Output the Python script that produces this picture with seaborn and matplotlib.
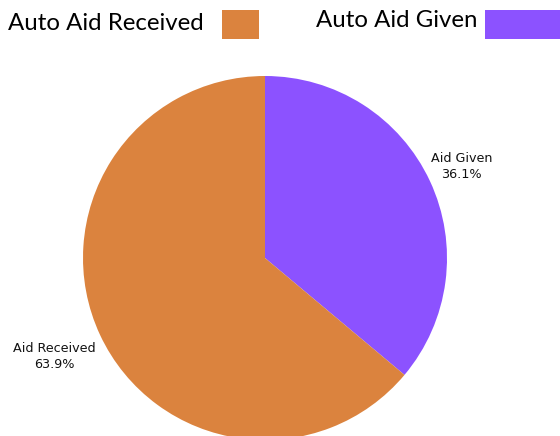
import numpy as np
import matplotlib
matplotlib.use("Agg")
import matplotlib.pyplot as plt
from matplotlib.patches import Rectangle
import seaborn as sns

# Share of automatic aid, given vs received
categories = ["Aid Given", "Aid Received"]
shares = [36.1, 63.9]
legend_labels = ["Auto Aid Given", "Auto Aid Received"]
colors = ["#8c52ff", "#db833e"]

sns.set_theme(style="white")
plt.rcParams["font.family"] = ["DejaVu Sans"]

fig = plt.figure(figsize=(5.6, 4.36), dpi=100)
fig.patch.set_facecolor("white")

W, H = 560, 436
cx, cy, r = 265, 258, 182
ax = fig.add_axes([(cx - r) / W, (H - cy - r) / H, 2 * r / W, 2 * r / H])
wedges, _ = ax.pie(shares, colors=colors, startangle=90, counterclock=False,
                   radius=1.0, wedgeprops=dict(linewidth=0))
ax.set_xlim(-1, 1)
ax.set_ylim(-1, 1)
ax.set_aspect("equal")
ax.axis("off")

# Slice labels, placed just outside each wedge at its mid-angle
label_dist = [1.19, 1.28]
for w, name, val, d in zip(wedges, categories, shares, label_dist):
    mid = np.deg2rad((w.theta1 + w.theta2) / 2)
    ax.text(d * np.cos(mid), d * np.sin(mid), f"{name}\n{val:.1f}%",
            ha="center", va="center", fontsize=9.2, color="#111111",
            linespacing=1.3, clip_on=False)

# Header legend: text followed by a colour swatch
def legend_item(text, color, tx, ty, bx, by, bw, bh):
    fig.text(tx / W, 1 - ty / H, text, fontsize=17.3, family="Lato",
             color="black", ha="left", va="baseline")
    fig.patches.append(Rectangle((bx / W, 1 - (by + bh) / H), bw / W, bh / H,
                                 transform=fig.transFigure, color=color,
                                 linewidth=0))

legend_item(legend_labels[1], colors[1], 8, 30, 222, 10, 37, 29)
legend_item(legend_labels[0], colors[0], 316, 27, 485, 10, 75, 29)

fig.savefig("out.png", dpi=100)
